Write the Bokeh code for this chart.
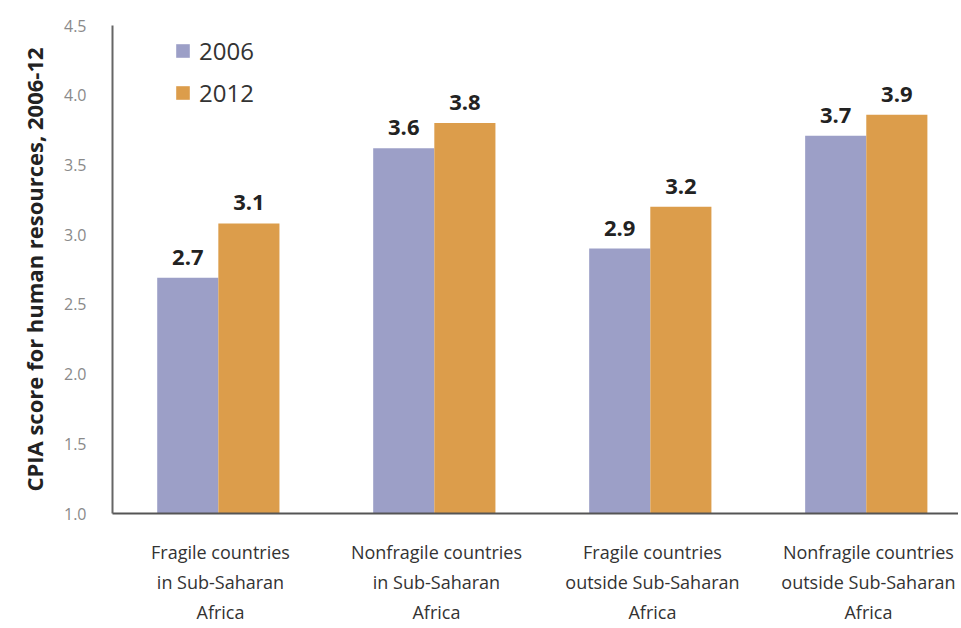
from bokeh.plotting import figure
from bokeh.models import (ColumnDataSource, Range1d, FixedTicker, Legend, LegendItem,
                          PrintfTickFormatter)
from bokeh.transform import dodge
from bokeh.core.properties import value
from bokeh.embed import file_html
from bokeh.resources import INLINE

# ---- data ----
categories = ["Fragile countries\nin Sub-Saharan\nAfrica",
              "Nonfragile countries\nin Sub-Saharan\nAfrica",
              "Fragile countries\noutside Sub-Saharan\nAfrica",
              "Nonfragile countries\noutside Sub-Saharan\nAfrica"]
positions = [0.5, 1.5, 2.5, 3.5]
values_2006 = [2.69, 3.62, 2.90, 3.71]
values_2012 = [3.08, 3.80, 3.20, 3.86]
labels_2006 = ["2.7", "3.6", "2.9", "3.7"]
labels_2012 = ["3.1", "3.8", "3.2", "3.9"]
y_ticks = [1.0, 1.5, 2.0, 2.5, 3.0, 3.5, 4.0, 4.5]

C2006 = "#9c9fc7"
C2012 = "#dc9d4b"
FONT = "Open Sans"

src = ColumnDataSource(dict(x=positions, v06=values_2006, v12=values_2012,
                            l06=labels_2006, l12=labels_2012))

p = figure(width=958, height=626, output_backend="svg", toolbar_location=None,
           x_range=Range1d(0, 3.917), y_range=Range1d(1.0, 4.5),
           min_border_left=112, min_border_right=0, min_border_top=25,
           min_border_bottom=111)
p.outline_line_color = None
p.xgrid.visible = False
p.ygrid.visible = False
p.background_fill_color = "white"

bw = 0.283
r06 = p.vbar(x=dodge("x", -bw / 2 - 0.01, range=p.x_range), top="v06", bottom=1.0, width=bw,
             source=src, fill_color=C2006, line_color=None)
r12 = p.vbar(x=dodge("x", bw / 2 - 0.01, range=p.x_range), top="v12", bottom=1.0, width=bw,
             source=src, fill_color=C2012, line_color=None)

for col, lab, off in (("v06", "l06", -bw / 2 - 0.01), ("v12", "l12", bw / 2 - 0.01)):
    p.text(x=dodge("x", off, range=p.x_range), y=col, text=lab, source=src,
           text_align="center", text_baseline="bottom", y_offset=-13,
           text_font=value(FONT), text_font_style="bold", text_font_size="22px",
           text_color="#222222")

# axes
xa = p.xaxis[0]
xa.ticker = FixedTicker(ticks=positions)
xa.major_label_overrides = {pos: cat for pos, cat in zip(positions, categories)}
xa.major_tick_line_color = None
xa.minor_tick_line_color = None
xa.axis_line_color = "#555555"
xa.axis_line_width = 2
xa.major_label_text_font = FONT
xa.major_label_text_font_size = "18px"
xa.major_label_text_color = "#333333"
xa.major_label_text_line_height = 1.26
xa.major_label_standoff = 20

ya = p.yaxis[0]
ya.ticker = FixedTicker(ticks=y_ticks)
ya.formatter = PrintfTickFormatter(format="%.1f")
ya.major_tick_line_color = None
ya.minor_tick_line_color = None
ya.axis_line_color = "#666666"
ya.axis_line_width = 2
ya.major_label_text_font = FONT
ya.major_label_text_font_size = "16px"
ya.major_label_text_color = "#8a8a8a"
ya.major_label_standoff = 20
ya.axis_label = "CPIA score for human resources, 2006-12"
ya.axis_label_text_font = FONT
ya.axis_label_text_font_style = "bold"
ya.axis_label_text_font_size = "22px"
ya.axis_label_text_color = "#222222"
ya.axis_label_standoff = 12

legend = Legend(items=[LegendItem(label="2006", renderers=[r06]),
                       LegendItem(label="2012", renderers=[r12])],
                location=(62, 404), padding=0, margin=0, spacing=9,
                glyph_width=17, glyph_height=17, label_standoff=8,
                label_text_font=FONT, label_text_font_size="24px",
                label_text_color="#333333",
                border_line_color=None, background_fill_alpha=0)
p.add_layout(legend)

open("out.html", "w").write(file_html(p, INLINE))
